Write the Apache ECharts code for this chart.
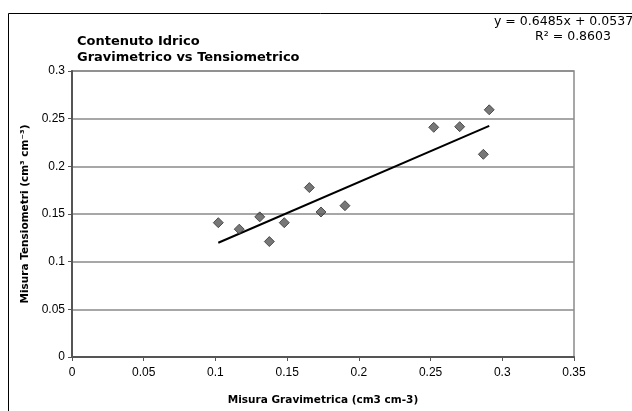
<!DOCTYPE html>
<html>
<head>
<meta charset="utf-8">
<title>Contenuto Idrico</title>
<script src="https://cdn.jsdelivr.net/npm/echarts@6/dist/echarts.min.js"></script>
<style>
  html, body { margin: 0; padding: 0; background: #fff; }
  #chart { width: 632px; height: 411px; }
</style>
</head>
<body>
<div id="chart"></div>
<script>
// measured points (gravimetric vs tensiometer water content)
const gravimetrico = [0.102, 0.1166, 0.1309, 0.1376, 0.148, 0.1655, 0.1736, 0.1903, 0.2522, 0.2703, 0.2868, 0.2909];
const tensiometrico = [0.1409, 0.1341, 0.147, 0.1211, 0.1409, 0.1777, 0.1521, 0.1587, 0.2409, 0.2416, 0.2126, 0.2593];

// linear trendline endpoints, as drawn in the picture
const trendX = [0.102, 0.2909];
const trendY = [0.1198, 0.2424];

const eqLine1 = 'y = 0.6485x + 0.0537';
const eqLine2 = 'R\u00B2 = 0.8603';

const xTicks = { min: 0, max: 0.35, interval: 0.05 };
const yTicks = { min: 0, max: 0.3, interval: 0.05 };

const font = "'Liberation Sans', Arial, sans-serif";
// excel renders its titles quite wide, DejaVu gets closer to that
const wideFont = "'DejaVu Sans', 'Liberation Sans', sans-serif";

const chart = echarts.init(document.getElementById('chart'), null, { renderer: 'canvas' });

const option = {
  animation: false,
  backgroundColor: '#fff',
  title: {
    text: 'Contenuto Idrico\nGravimetrico vs Tensiometrico',
    left: 77,
    top: 34,
    padding: 0,
    textStyle: { fontFamily: wideFont, fontSize: 13, fontWeight: 'bold', color: '#000', lineHeight: 15.5 }
  },
  grid: {
    left: 72, top: 71, right: 58, bottom: 47,
    show: true, borderColor: '#8a8a8a', borderWidth: 1.5, backgroundColor: '#fff'
  },
  xAxis: {
    type: 'value',
    min: xTicks.min, max: xTicks.max, interval: xTicks.interval,
    name: 'Misura Gravimetrica (cm3 cm-3)',
    nameLocation: 'middle',
    nameGap: 38,
    nameTextStyle: { fontFamily: wideFont, fontSize: 10.5, fontWeight: 'bold', color: '#000' },
    axisLine: { lineStyle: { color: '#555', width: 2 } },
    axisTick: { show: true, length: 4, lineStyle: { color: '#555', width: 1 } },
    axisLabel: { fontFamily: font, fontSize: 12, color: '#000', margin: 10 },
    splitLine: { show: false }
  },
  yAxis: {
    type: 'value',
    min: yTicks.min, max: yTicks.max, interval: yTicks.interval,
    name: 'Misura Tensiometri (cm\u00B3 cm\u207B\u00B3)',
    nameLocation: 'middle',
    nameGap: 41,
    nameTextStyle: { fontFamily: wideFont, fontSize: 10.5, fontWeight: 'bold', color: '#000' },
    axisLine: { show: true, lineStyle: { color: '#555', width: 2 } },
    axisTick: { show: true, length: 4, lineStyle: { color: '#555', width: 1 } },
    axisLabel: { fontFamily: font, fontSize: 12, color: '#000', margin: 7 },
    splitLine: { show: true, lineStyle: { color: '#8a8a8a', width: 1.5 } }
  },
  series: [
    {
      name: 'Misure',
      type: 'scatter',
      symbol: 'diamond',
      symbolSize: 10,
      itemStyle: { color: '#555', borderColor: '#333', borderWidth: 1 },
      data: gravimetrico.map((x, i) => [x, tensiometrico[i]]),
      z: 3
    },
    {
      name: 'Trend',
      type: 'line',
      showSymbol: false,
      lineStyle: { color: '#000', width: 2 },
      data: trendX.map((x, i) => [x, trendY[i]]),
      z: 2
    }
  ],
  graphic: [
    {
      type: 'rect',
      shape: { x: 8.5, y: 13.5, width: 640, height: 420 },
      style: { fill: 'none', stroke: '#000', lineWidth: 1 },
      z: -1
    },
    {
      type: 'text',
      x: 494, y: 22,
      style: { text: eqLine1, font: '12.5px ' + wideFont, fill: '#000', textAlign: 'left', textVerticalAlign: 'middle' }
    },
    {
      type: 'text',
      x: 573, y: 37,
      style: { text: eqLine2, font: '12.5px ' + wideFont, fill: '#000', textAlign: 'center', textVerticalAlign: 'middle' }
    }
  ]
};

chart.setOption(option);
</script>
</body>
</html>
